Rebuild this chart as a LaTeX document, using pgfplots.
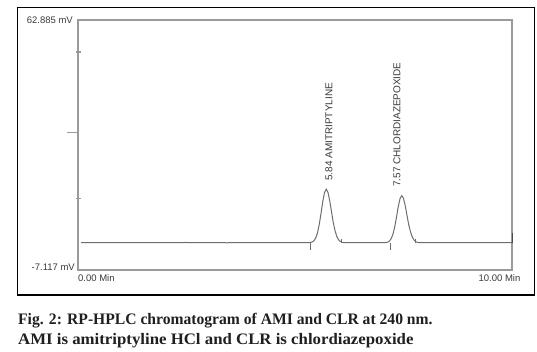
\documentclass[border=0pt]{standalone}
\usepackage{pgfplots}
\pgfplotsset{compat=1.18}
\usepackage{fontspec}
\setmainfont{Liberation Serif}
\newfontfamily\lsans{Liberation Sans}
\definecolor{axgray}{HTML}{9A9A9A}
\definecolor{curvegray}{HTML}{6E6E6E}
\definecolor{txtgray}{HTML}{3A3A3A}
\begin{document}
\begin{tikzpicture}[x=1pt,y=1pt]
\useasboundingbox[fill=white] (0,0) rectangle (537,-352);
\draw[black, line width=1.3pt] (17.5,-7.3) rectangle (534.5,-295);
\begin{axis}[at={(78pt,-270pt)}, anchor=south west, scale only axis,
  width=434pt, height=250pt,
  xmin=0, xmax=10, ymin=-7.117, ymax=62.885,
  axis line style={axgray, line width=1.4pt},
  xtick=\empty, ytick={12.8,53.9}, yticklabels={}, ytick pos=left,
  tick style={axgray, line width=1.2pt}, major tick length=5pt, tick align=center,
  extra y ticks={31.4}, extra y tick labels={},
  extra y tick style={major tick length=11pt, tick align=outside},
  clip=false]
\addplot[curvegray, line width=1pt] coordinates {
(0.07,0.53)(2.44,0.53)(2.47,0.62)(2.50,0.53)(3.40,0.53)(3.43,0.45)(3.46,0.53)
(5.32,0.55)(5.36,0.6)(5.40,0.75)(5.44,1.12)(5.48,1.92)(5.52,3.4)(5.56,5.73)(5.60,8.8)(5.64,12.05)(5.68,14.57)(5.72,15.5)(5.76,14.6)(5.80,12.3)(5.84,9.3)(5.88,6.3)(5.92,4.0)(5.96,2.4)(6.00,1.4)(6.04,0.9)(6.08,0.65)(6.12,0.55)(6.16,0.53)
(7.06,0.55)(7.10,0.59)(7.14,0.72)(7.18,1.04)(7.22,1.75)(7.26,3.05)(7.30,5.1)(7.34,7.8)(7.38,10.67)(7.42,12.9)(7.46,13.7)(7.50,12.95)(7.54,10.9)(7.58,8.2)(7.62,5.6)(7.66,3.6)(7.70,2.2)(7.74,1.3)(7.78,0.85)(7.82,0.62)(7.86,0.55)(7.90,0.53)(10.0,0.53)};
\addplot[curvegray, line width=0.8pt] coordinates {(5.35,0.53)(5.35,-1.6)};
\addplot[curvegray, line width=0.8pt] coordinates {(6.08,0.53)(6.08,1.6)};
\addplot[curvegray, line width=0.8pt] coordinates {(7.19,0.53)(7.19,-1.6)};
\addplot[curvegray, line width=0.8pt] coordinates {(7.77,0.53)(7.77,1.6)};
\addplot[black!70, line width=1pt] coordinates {(10,0.53)(10,3.3)};
\node[anchor=east, inner sep=0, xshift=-5pt, font=\lsans\fontsize{9.5}{10}\selectfont, text=txtgray] at (rel axis cs:0,1) {62.885 mV};
\node[anchor=east, inner sep=0, xshift=-3pt, yshift=3pt, font=\lsans\fontsize{9.5}{10}\selectfont, text=txtgray] at (rel axis cs:0,0) {-7.117 mV};
\node[anchor=west, inner sep=0, yshift=-8pt, font=\lsans\fontsize{9.5}{10}\selectfont, text=txtgray] at (rel axis cs:0,0) {0.00 Min};
\node[anchor=center, inner sep=0, xshift=-12.5pt, yshift=-8pt, font=\lsans\fontsize{9.5}{10}\selectfont, text=txtgray] at (rel axis cs:1,0) {10.00 Min};
\node[rotate=90, anchor=west, inner sep=0, font=\lsans\fontsize{10}{10}\selectfont, text=txtgray] at (axis cs:5.78,17.8) {5.84 AMITRIPTYLINE};
\node[rotate=90, anchor=west, inner sep=0, font=\lsans\fontsize{10}{10}\selectfont, text=txtgray] at (axis cs:7.35,16.1) {7.57 CHLORDIAZEPOXIDE};
\end{axis}
\node[anchor=base west, inner sep=0, font=\bfseries\fontsize{16}{20}\selectfont, text=black!88] at (18,-324) {\scalebox{0.976}[1]{Fig. 2: RP-HPLC chromatogram of AMI and CLR at 240 nm.}};
\node[anchor=base west, inner sep=0, font=\bfseries\fontsize{16}{20}\selectfont, text=black!88] at (18,-344) {\scalebox{1.05}[1]{AMI is amitriptyline HCl and CLR is chlordiazepoxide}};
\end{tikzpicture}
\end{document}
